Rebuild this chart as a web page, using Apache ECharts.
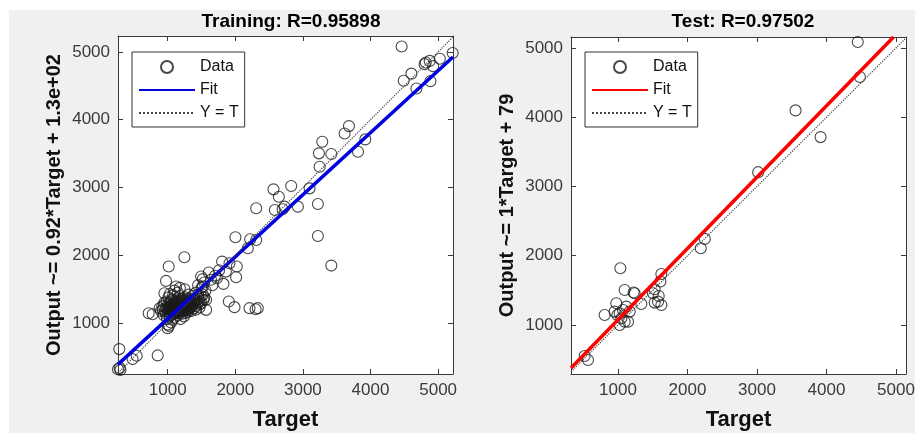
<!DOCTYPE html>
<html>
<head>
<meta charset="utf-8">
<title>Regression</title>
<script src="https://cdn.jsdelivr.net/npm/echarts@6/dist/echarts.min.js"></script>
<style>
  html, body { margin: 0; padding: 0; background: #fff; }
  #main { width: 915px; height: 433px; }
</style>
</head>
<body>
<div id="main"></div>
<script>
// tick labels shared by both panels
var tickValues = [1000, 2000, 3000, 4000, 5000];

// axis limits
var trainXLim = [265, 5220], trainYLim = [250, 5235];
var testXLim = [324, 5144], testYLim = [292, 5159];

// Training: [target, output]
var trainPoints = [
  [4460,5080],[5215,4985],[5025,4900],[4876,4868],[4817,4844],[4800,4820],[4926,4790],[4605,4680],
  [4491,4574],[4679,4461],[4886,4569],
  [3681,3906],[3617,3798],[3923,3710],[3815,3528],[3286,3675],[3237,3504],[3420,3494],[3247,3307],
  [3099,2988],[3222,2757],[3222,2286],[3420,1849],
  [2827,3023],[2565,2973],[2644,2865],[2926,2718],[2585,2669],[2728,2718],[2700,2680],[2309,2694],
  [2309,2227],[2220,2237],[2185,2105],[2002,2267],
  [2333,1221],[2300,1206],[2210,1221],[1988,1236],[1904,1319],[2012,1677],[2022,1835],[1914,1884],
  [1805,1908],[1825,1579],[1726,1663],[1607,1746],[1494,1687],[1519,1540],[1568,1344],[1568,1196],
  [1247,1972],[1015,1835],[975,1623],[1123,1540],[951,1442],
  [1640,1640],[1700,1700],[1760,1780],[1540,1600],[1660,1560],[1860,1760],[1450,1560],[1520,1650],
  [852,524],[284,617],[481,470],[541,519],[265,320],[290,340],[300,310],[719,1147],[778,1132],
  [1000,926],[1020,960],
  [960,1180],[980,1230],[1000,1150],[1010,1280],[1020,1200],[1030,1100],[1040,1250],[1050,1320],
  [1060,1180],[1070,1050],[1080,1220],[1090,1140],[1100,1300],[1110,1230],[1120,1190],[1130,1350],
  [1140,1260],[1150,1120],[1160,1280],[1170,1210],[1180,1400],[1190,1300],[1200,1170],[1210,1240],
  [1220,1330],[1230,1270],[1240,1100],[1250,1210],[1260,1380],[1270,1290],[1280,1230],[1290,1330],
  [1300,1260],[1310,1190],[1320,1300],[1330,1360],[1340,1240],[1350,1300],[1370,1400],[1380,1280],
  [1400,1330],[1410,1250],[1420,1450],[1440,1300],[1460,1360],[1480,1280],[1500,1520],[1520,1420],
  [1540,1380],[1560,1480],[920,1250],[940,1120],[950,1300],[990,1060],[1000,980],[1010,1380],
  [1040,1150],[1050,1010],[1060,1270],[1080,1410],[1100,1080],[1120,1300],[1150,1450],[1170,1150],
  [1190,1060],[1210,1350],[1230,1180],[1260,1150],[1290,1200],[1310,1420],[1350,1180],[1380,1350],
  [1420,1200],[1450,1420],[1500,1300],[1250,1500],[1180,1520],[1100,1480],[1030,1430],[900,1180],
  [880,1220],
  [930,1200],[945,1260],[970,1140],[985,1320],[995,1210],[1015,1170],[1025,1240],[1035,1300],
  [1045,1200],[1055,1130],[1065,1350],[1075,1260],[1085,1180],[1095,1230],[1105,1160],[1115,1270],
  [1125,1220],[1135,1150],[1145,1310],[1155,1230],[1165,1180],[1175,1330],[1185,1250],[1195,1200],
  [1205,1290],[1215,1140],[1225,1220],[1235,1320],[1245,1260],[1255,1180],[1265,1240],[1275,1350],
  [1285,1280],[1295,1160],[1305,1320],[1315,1250],[1325,1220],[1345,1330],[1360,1260],[1390,1310],
  [1430,1340],[1470,1320],[1490,1400],[1530,1340],[1470,1230],[1390,1220]
];

// Test: [target, output]
var testPoints = [
  [4450,5087],[4481,4581],[3555,4099],[3915,3713],[3017,3207],[2249,2243],[2191,2108],
  [1034,1819],[1096,1506],[1240,1458],[1225,1470],[1336,1304],[1624,1737],[1610,1627],
  [1528,1516],[1504,1458],[1586,1419],[1528,1323],[1624,1289],[1576,1337],
  [808,1145],[976,1313],[952,1193],[1024,1169],[1072,1217],[1120,1265],[1168,1193],
  [1024,1000],[1096,1048],[1144,1048],[1048,1096],[990,1145],[520,552],[568,494]
];

// fit lines and Y = T, as end points
var trainFit = [[265, 392], [5220, 4926]];
var testFit = [[324, 380], [4965, 5159]];
var trainIdent = [[265, 265], [5220, 5220]];
var testIdent = [[324, 324], [5144, 5144]];

var font = "'Liberation Sans', Arial, sans-serif";
var axisColor = '#3a3a3a';

function makeAxis(grid, pos, lim, labels, name, gap) {
  return {
    type: 'value', gridIndex: grid, position: pos,
    min: lim[0], max: lim[1],
    name: name || '', nameLocation: 'middle', nameGap: gap || 0,
    nameTextStyle: { fontFamily: font, fontSize: name === 'Target' ? 22 : 20, fontWeight: 'bold', color: '#111' },
    axisLine: { show: true, onZero: false, lineStyle: { color: axisColor, width: 1 } },
    axisTick: { show: true, inside: true, length: 5, customValues: tickValues, lineStyle: { color: axisColor } },
    axisLabel: { show: labels, customValues: tickValues, fontFamily: font, fontSize: 17, color: '#3a3a3a', margin: 8,
      formatter: function (v) { return String(v); } },
    splitLine: { show: false }
  };
}

function legendFor(left, names) {
  return {
    orient: 'vertical', left: left, top: 52,
    data: [
      { name: names[0] },
      { name: names[1], itemStyle: { opacity: 0 } },
      { name: names[2], itemStyle: { opacity: 0 } }
    ],
    formatter: function (n) { return n.split('#')[0]; },
    itemWidth: 56, itemHeight: 12, itemGap: 7,
    padding: [7, 6, 6, 6],
    backgroundColor: '#fff', borderColor: '#333', borderWidth: 1, borderRadius: 0,
    selectedMode: false,
    textStyle: { fontFamily: font, fontSize: 16, color: '#111' }
  };
}

var myChart = echarts.init(document.getElementById('main'));

var option = {
  animation: false,
  backgroundColor: '#fff',
  graphic: [{
    type: 'rect', z: -10, silent: true,
    shape: { x: 9, y: 10, width: 906, height: 423 },
    style: { fill: '#f0f0f0' }
  }],
  title: [
    { text: 'Training: R=0.95898', left: 286, top: 7, textAlign: 'center',
      textStyle: { fontFamily: font, fontSize: 19, fontWeight: 'bold', color: '#000' } },
    { text: 'Test: R=0.97502', left: 738, top: 7, textAlign: 'center',
      textStyle: { fontFamily: font, fontSize: 19, fontWeight: 'bold', color: '#000' } }
  ],
  legend: [
    legendFor(132, ['Data', 'Fit', 'Y = T']),
    legendFor(585, ['Data#test', 'Fit#test', 'Y = T#test'])
  ],
  // fixed plot boxes, no automatic shrinking
  grid: [
    { left: 118, top: 36, width: 335, height: 338, show: true, backgroundColor: '#fff', borderWidth: 0,
      outerBoundsMode: 'none' },
    { left: 571, top: 37, width: 335, height: 337, show: true, backgroundColor: '#fff', borderWidth: 0,
      outerBoundsMode: 'none' }
  ],
  xAxis: [
    makeAxis(0, 'bottom', trainXLim, true, 'Target', 35),
    makeAxis(0, 'top', trainXLim, false),
    makeAxis(1, 'bottom', testXLim, true, 'Target', 35),
    makeAxis(1, 'top', testXLim, false)
  ],
  yAxis: [
    makeAxis(0, 'left', trainYLim, true, 'Output ~= 0.92*Target + 1.3e+02', 54),
    makeAxis(0, 'right', trainYLim, false),
    makeAxis(1, 'left', testYLim, true, 'Output ~= 1*Target + 79', 54),
    makeAxis(1, 'right', testYLim, false)
  ],
  series: [
    { name: 'Data', type: 'scatter', xAxisIndex: 0, yAxisIndex: 0, data: trainPoints,
      symbol: 'circle', symbolSize: 11, z: 2,
      itemStyle: { color: 'rgba(0,0,0,0)', borderColor: '#1a1a1a', borderWidth: 1.1 } },
    { name: 'Fit', type: 'line', xAxisIndex: 0, yAxisIndex: 0, data: trainFit,
      symbol: 'none', z: 3, itemStyle: { color: '#0000e0' }, lineStyle: { color: '#0000e0', width: 3.5 } },
    { name: 'Y = T', type: 'line', xAxisIndex: 0, yAxisIndex: 0, data: trainIdent,
      symbol: 'none', z: 4, itemStyle: { color: '#444' }, lineStyle: { color: '#444', width: 1.2, type: 'dotted' } },

    { name: 'Data#test', type: 'scatter', xAxisIndex: 2, yAxisIndex: 2, data: testPoints,
      symbol: 'circle', symbolSize: 11, z: 2,
      itemStyle: { color: 'rgba(0,0,0,0)', borderColor: '#1a1a1a', borderWidth: 1.1 } },
    { name: 'Fit#test', type: 'line', xAxisIndex: 2, yAxisIndex: 2, data: testFit,
      symbol: 'none', z: 3, itemStyle: { color: '#ff0000' }, lineStyle: { color: '#ff0000', width: 3.5 } },
    { name: 'Y = T#test', type: 'line', xAxisIndex: 2, yAxisIndex: 2, data: testIdent,
      symbol: 'none', z: 4, itemStyle: { color: '#444' }, lineStyle: { color: '#444', width: 1.2, type: 'dotted' } }
  ]
};

myChart.setOption(option);
</script>
</body>
</html>
